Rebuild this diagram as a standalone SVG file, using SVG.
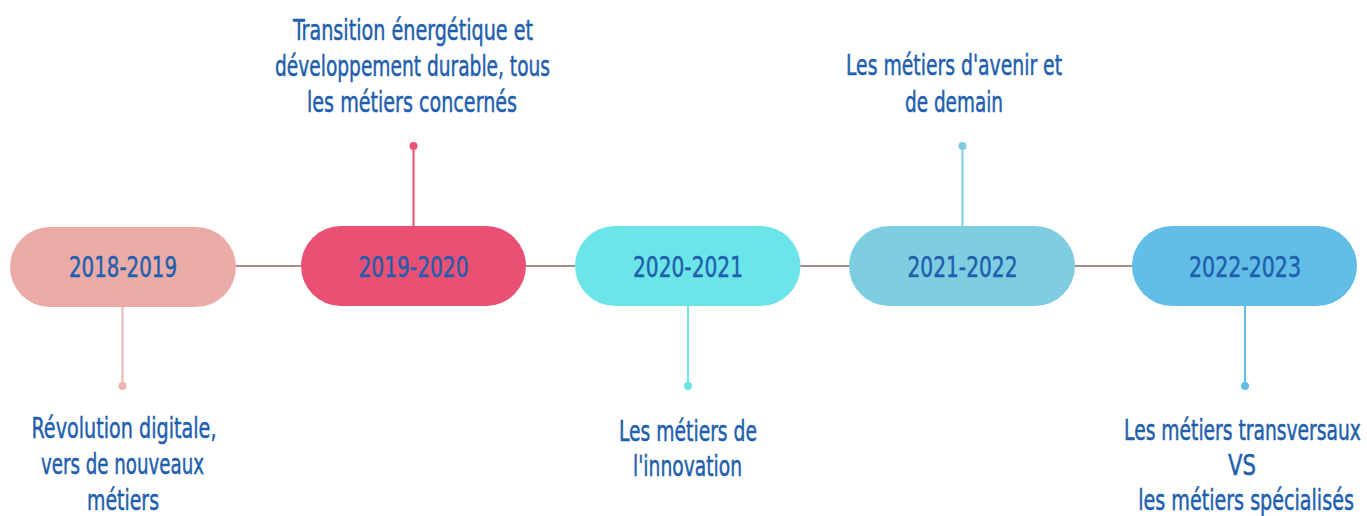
<svg xmlns="http://www.w3.org/2000/svg" width="1367" height="516" viewBox="0 0 1367 516">
<style>
text{font-family:"Liberation Sans Narrow","DejaVu Sans Condensed","Liberation Sans",sans-serif;fill:#1F5FAD;stroke:#1F5FAD;stroke-width:0.5;text-anchor:middle;font-size:29px}
.tl{stroke:#A88C8C;stroke-width:2;fill:none}
</style>
<rect width="1367" height="516" fill="#ffffff"/>
<g id="connectors">
<line class="tl" x1="236" y1="266" x2="301" y2="266"/>
<line class="tl" x1="526" y1="266" x2="575" y2="266"/>
<line class="tl" x1="800" y1="266" x2="849" y2="266"/>
<line class="tl" x1="1075" y1="266" x2="1132" y2="266"/>
<line x1="122.5" y1="307" x2="122.5" y2="386" stroke="#EFB3B0" stroke-width="2"/>
<circle cx="122.5" cy="386" r="4" fill="#EFB3B0"/>
<line x1="413.5" y1="226" x2="413.5" y2="146" stroke="#EA4F74" stroke-width="2"/>
<circle cx="413.5" cy="146" r="4" fill="#EA4F74"/>
<line x1="688" y1="306" x2="688" y2="386" stroke="#6CE5E8" stroke-width="2"/>
<circle cx="688" cy="386" r="4" fill="#6CE5E8"/>
<line x1="962.5" y1="226" x2="962.5" y2="146" stroke="#7FCDE0" stroke-width="2"/>
<circle cx="962.5" cy="146" r="4" fill="#7FCDE0"/>
<line x1="1245" y1="306" x2="1245" y2="386" stroke="#62BEE7" stroke-width="2"/>
<circle cx="1245" cy="386" r="4" fill="#62BEE7"/>
</g>
<g id="n2018">
<rect x="10" y="227" width="226" height="80" rx="40" fill="#EBACA8"/>
<text x="123" y="277" textLength="108" lengthAdjust="spacingAndGlyphs">2018-2019</text>
<text x="124" y="438" textLength="185" lengthAdjust="spacingAndGlyphs">Révolution digitale,</text>
<text x="122.5" y="474" textLength="163" lengthAdjust="spacingAndGlyphs">vers de nouveaux</text>
<text x="123" y="510" textLength="72" lengthAdjust="spacingAndGlyphs">métiers</text>
</g>
<g id="n2019">
<rect x="301" y="226" width="225" height="80" rx="40" fill="#EA4F74"/>
<text x="413.5" y="277" textLength="110" lengthAdjust="spacingAndGlyphs">2019-2020</text>
<text x="413" y="40" textLength="240" lengthAdjust="spacingAndGlyphs">Transition énergétique et</text>
<text x="412.5" y="76" textLength="275" lengthAdjust="spacingAndGlyphs">développement durable, tous</text>
<text x="412" y="112" textLength="210" lengthAdjust="spacingAndGlyphs">les métiers concernés</text>
</g>
<g id="n2020">
<rect x="575" y="226" width="225.5" height="80" rx="40" fill="#6CE5E8"/>
<text x="688" y="277" textLength="110" lengthAdjust="spacingAndGlyphs">2020-2021</text>
<text x="688" y="441" textLength="138" lengthAdjust="spacingAndGlyphs">Les métiers de</text>
<text x="687.5" y="476" textLength="109" lengthAdjust="spacingAndGlyphs">l'innovation</text>
</g>
<g id="n2021">
<rect x="849" y="226" width="226" height="80" rx="40" fill="#7FCDE0"/>
<text x="962.5" y="277" textLength="110" lengthAdjust="spacingAndGlyphs">2021-2022</text>
<text x="954" y="75" textLength="216" lengthAdjust="spacingAndGlyphs">Les métiers d'avenir et</text>
<text x="954" y="112" textLength="98" lengthAdjust="spacingAndGlyphs">de demain</text>
</g>
<g id="n2022">
<rect x="1132" y="226" width="225" height="80" rx="40" fill="#62BEE7"/>
<text x="1245" y="277" textLength="112" lengthAdjust="spacingAndGlyphs">2022-2023</text>
<text transform="translate(1242.5 440) scale(0.62 1)" x="0" y="0" textLength="382" lengthAdjust="spacingAndGlyphs">Les métiers transversaux</text>
<text x="1242" y="475" textLength="28" lengthAdjust="spacingAndGlyphs">VS</text>
<text transform="translate(1246 510) scale(0.62 1)" x="0" y="0" textLength="348" lengthAdjust="spacingAndGlyphs">les métiers spécialisés</text>
</g>
</svg>
